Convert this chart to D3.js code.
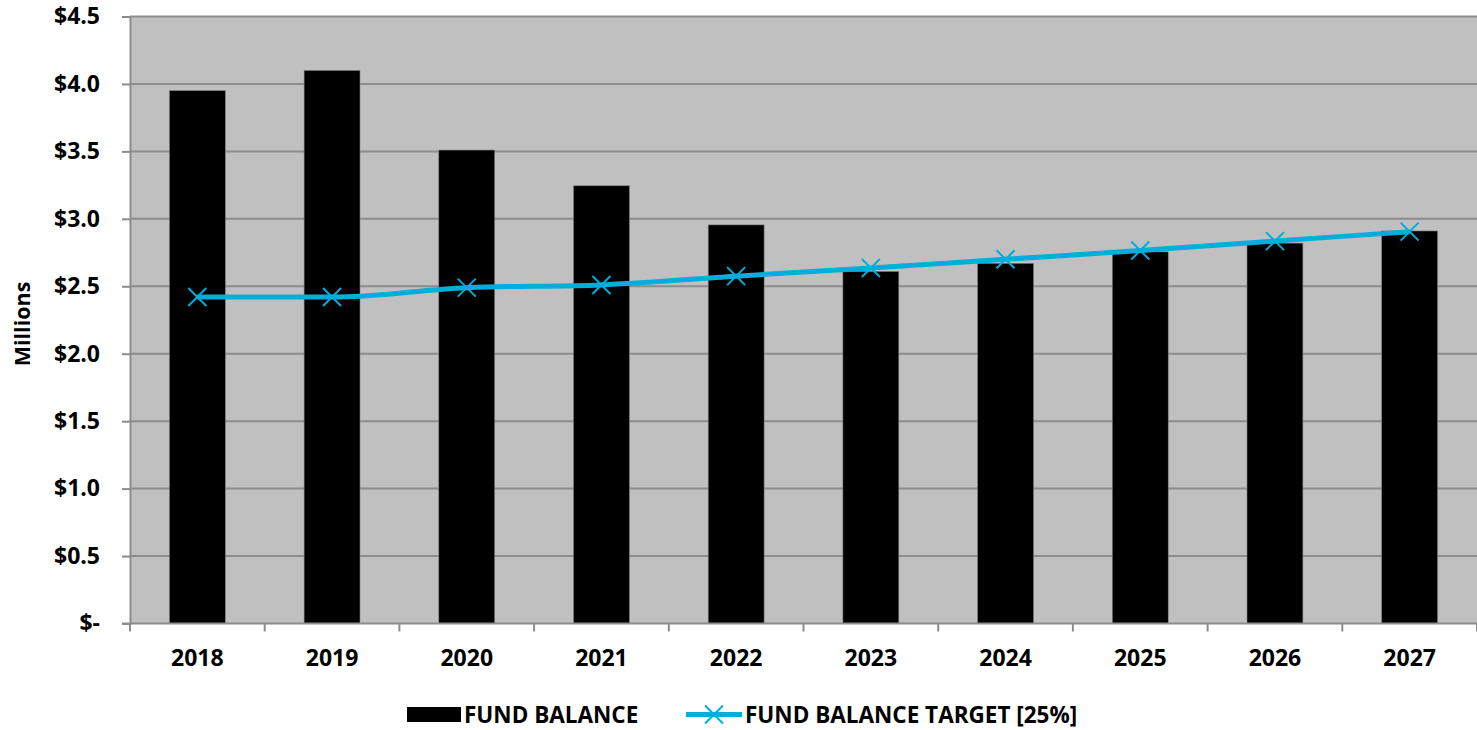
<!DOCTYPE html>
<html><head><meta charset="utf-8">
<script src="https://cdn.jsdelivr.net/npm/d3@7"></script>
<style>body{margin:0;background:#fff}svg{display:block}text{font-family:"Open Sans",sans-serif;font-weight:700;fill:#000}</style>
</head><body><svg id="c" width="1477" height="730"></svg>
<script>
const years = ["2018","2019","2020","2021","2022","2023","2024","2025","2026","2027"];
const fundBalance = [3.95, 4.10, 3.51, 3.245, 2.955, 2.61, 2.67, 2.755, 2.82, 2.91];
const fundTarget = [2.42, 2.42, 2.49, 2.51, 2.575, 2.635, 2.70, 2.765, 2.835, 2.905];
const yTicks = [0, 0.5, 1, 1.5, 2, 2.5, 3, 3.5, 4, 4.5];
const yTickLabels = ["$-", "$0.5", "$1.0", "$1.5", "$2.0", "$2.5", "$3.0", "$3.5", "$4.0", "$4.5"];

const svg = d3.select("#c");
const L = 130, R = 1477, T = 16.5, B = 623.5;
const x = d3.scaleBand().domain(years).range([L, R]).paddingInner(0).paddingOuter(0);
const y = d3.scaleLinear().domain([0, 4.5]).range([B, T]);

svg.append("rect").attr("x", L).attr("y", T).attr("width", R - L).attr("height", B - T).attr("fill", "#c0c0c0");

// gridlines + y ticks
const yAxis = d3.axisLeft(y).tickValues(yTicks).tickSize(8).tickFormat((d, i) => yTickLabels[i]).tickPadding(22);
const ga = svg.append("g").attr("transform", `translate(${L},0)`).call(yAxis);
ga.select(".domain").attr("stroke", "#8c8c8c").attr("stroke-width", 2);
ga.selectAll(".tick line").attr("stroke", "#8c8c8c").attr("stroke-width", 2);
ga.selectAll(".tick text").style("font-size", "23px").style("font-family", "'Open Sans',sans-serif").style("font-weight", "700").attr("fill", "#000");
svg.append("g").selectAll("line").data(yTicks.filter(d => d > 0)).join("line")
  .attr("x1", L).attr("x2", R).attr("y1", d => y(d)).attr("y2", d => y(d))
  .attr("stroke", "#8c8c8c").attr("stroke-width", 2);

// bars
const bw = x.bandwidth() * 0.415;
svg.append("g").selectAll("rect").data(years).join("rect")
  .attr("x", d => x(d) + (x.bandwidth() - bw) / 2)
  .attr("y", (d, i) => y(fundBalance[i]))
  .attr("width", bw)
  .attr("height", (d, i) => B - y(fundBalance[i]))
  .attr("fill", "#000").attr("stroke", "#7f7f7f").attr("stroke-width", 0.6);

// x axis
const xAxis = d3.axisBottom(x).tickSize(0).tickPadding(26);
const gx = svg.append("g").attr("transform", `translate(0,${B})`).call(xAxis);
gx.select(".domain").remove();
gx.selectAll(".tick text").style("font-size", "23px").style("font-family", "'Open Sans',sans-serif").style("font-weight", "700").attr("fill", "#000");
svg.append("line").attr("x1", L - 8).attr("x2", R).attr("y1", B).attr("y2", B).attr("stroke", "#8c8c8c").attr("stroke-width", 2);
const bounds = years.map(d => x(d)).concat([R]);
svg.append("g").selectAll("line").data(bounds).join("line")
  .attr("x1", d => d).attr("x2", d => d).attr("y1", B).attr("y2", B + 8)
  .attr("stroke", "#8c8c8c").attr("stroke-width", 2);

// line
const cx = d => x(d) + x.bandwidth() / 2;
const line = d3.line().x((d, i) => cx(years[i])).y(d => y(d)).curve(d3.curveMonotoneX);
svg.append("path").datum(fundTarget).attr("d", line).attr("fill", "none").attr("stroke", "#00aedb").attr("stroke-width", 5);
const m = 9;
const mk = svg.append("g").selectAll("g").data(fundTarget).join("g")
  .attr("transform", (d, i) => `translate(${cx(years[i])},${y(d)})`);
mk.append("path").attr("d", `M${-m},${-m}L${m},${m}M${-m},${m}L${m},${-m}`).attr("stroke", "#00aedb").attr("stroke-width", 2).attr("fill", "none");

// y title
svg.append("text").attr("transform", "translate(30,324) rotate(-90)").attr("text-anchor", "middle").style("font-size", "21.5px").text("Millions");

// legend
const lg = svg.append("g");
lg.append("rect").attr("x", 407).attr("y", 707).attr("width", 54).attr("height", 15).attr("fill", "#000");
lg.append("text").attr("x", 464).attr("y", 723).style("font-size", "22.5px").text("FUND BALANCE");
lg.append("line").attr("x1", 686).attr("x2", 742).attr("y1", 714.5).attr("y2", 714.5).attr("stroke", "#00aedb").attr("stroke-width", 5);
lg.append("path").attr("d", `M${714 - m},${714.5 - m}L${714 + m},${714.5 + m}M${714 - m},${714.5 + m}L${714 + m},${714.5 - m}`).attr("stroke", "#00aedb").attr("stroke-width", 2);
lg.append("text").attr("x", 745).attr("y", 723).style("font-size", "22.5px").text("FUND BALANCE TARGET [25%]");
</script></body></html>
